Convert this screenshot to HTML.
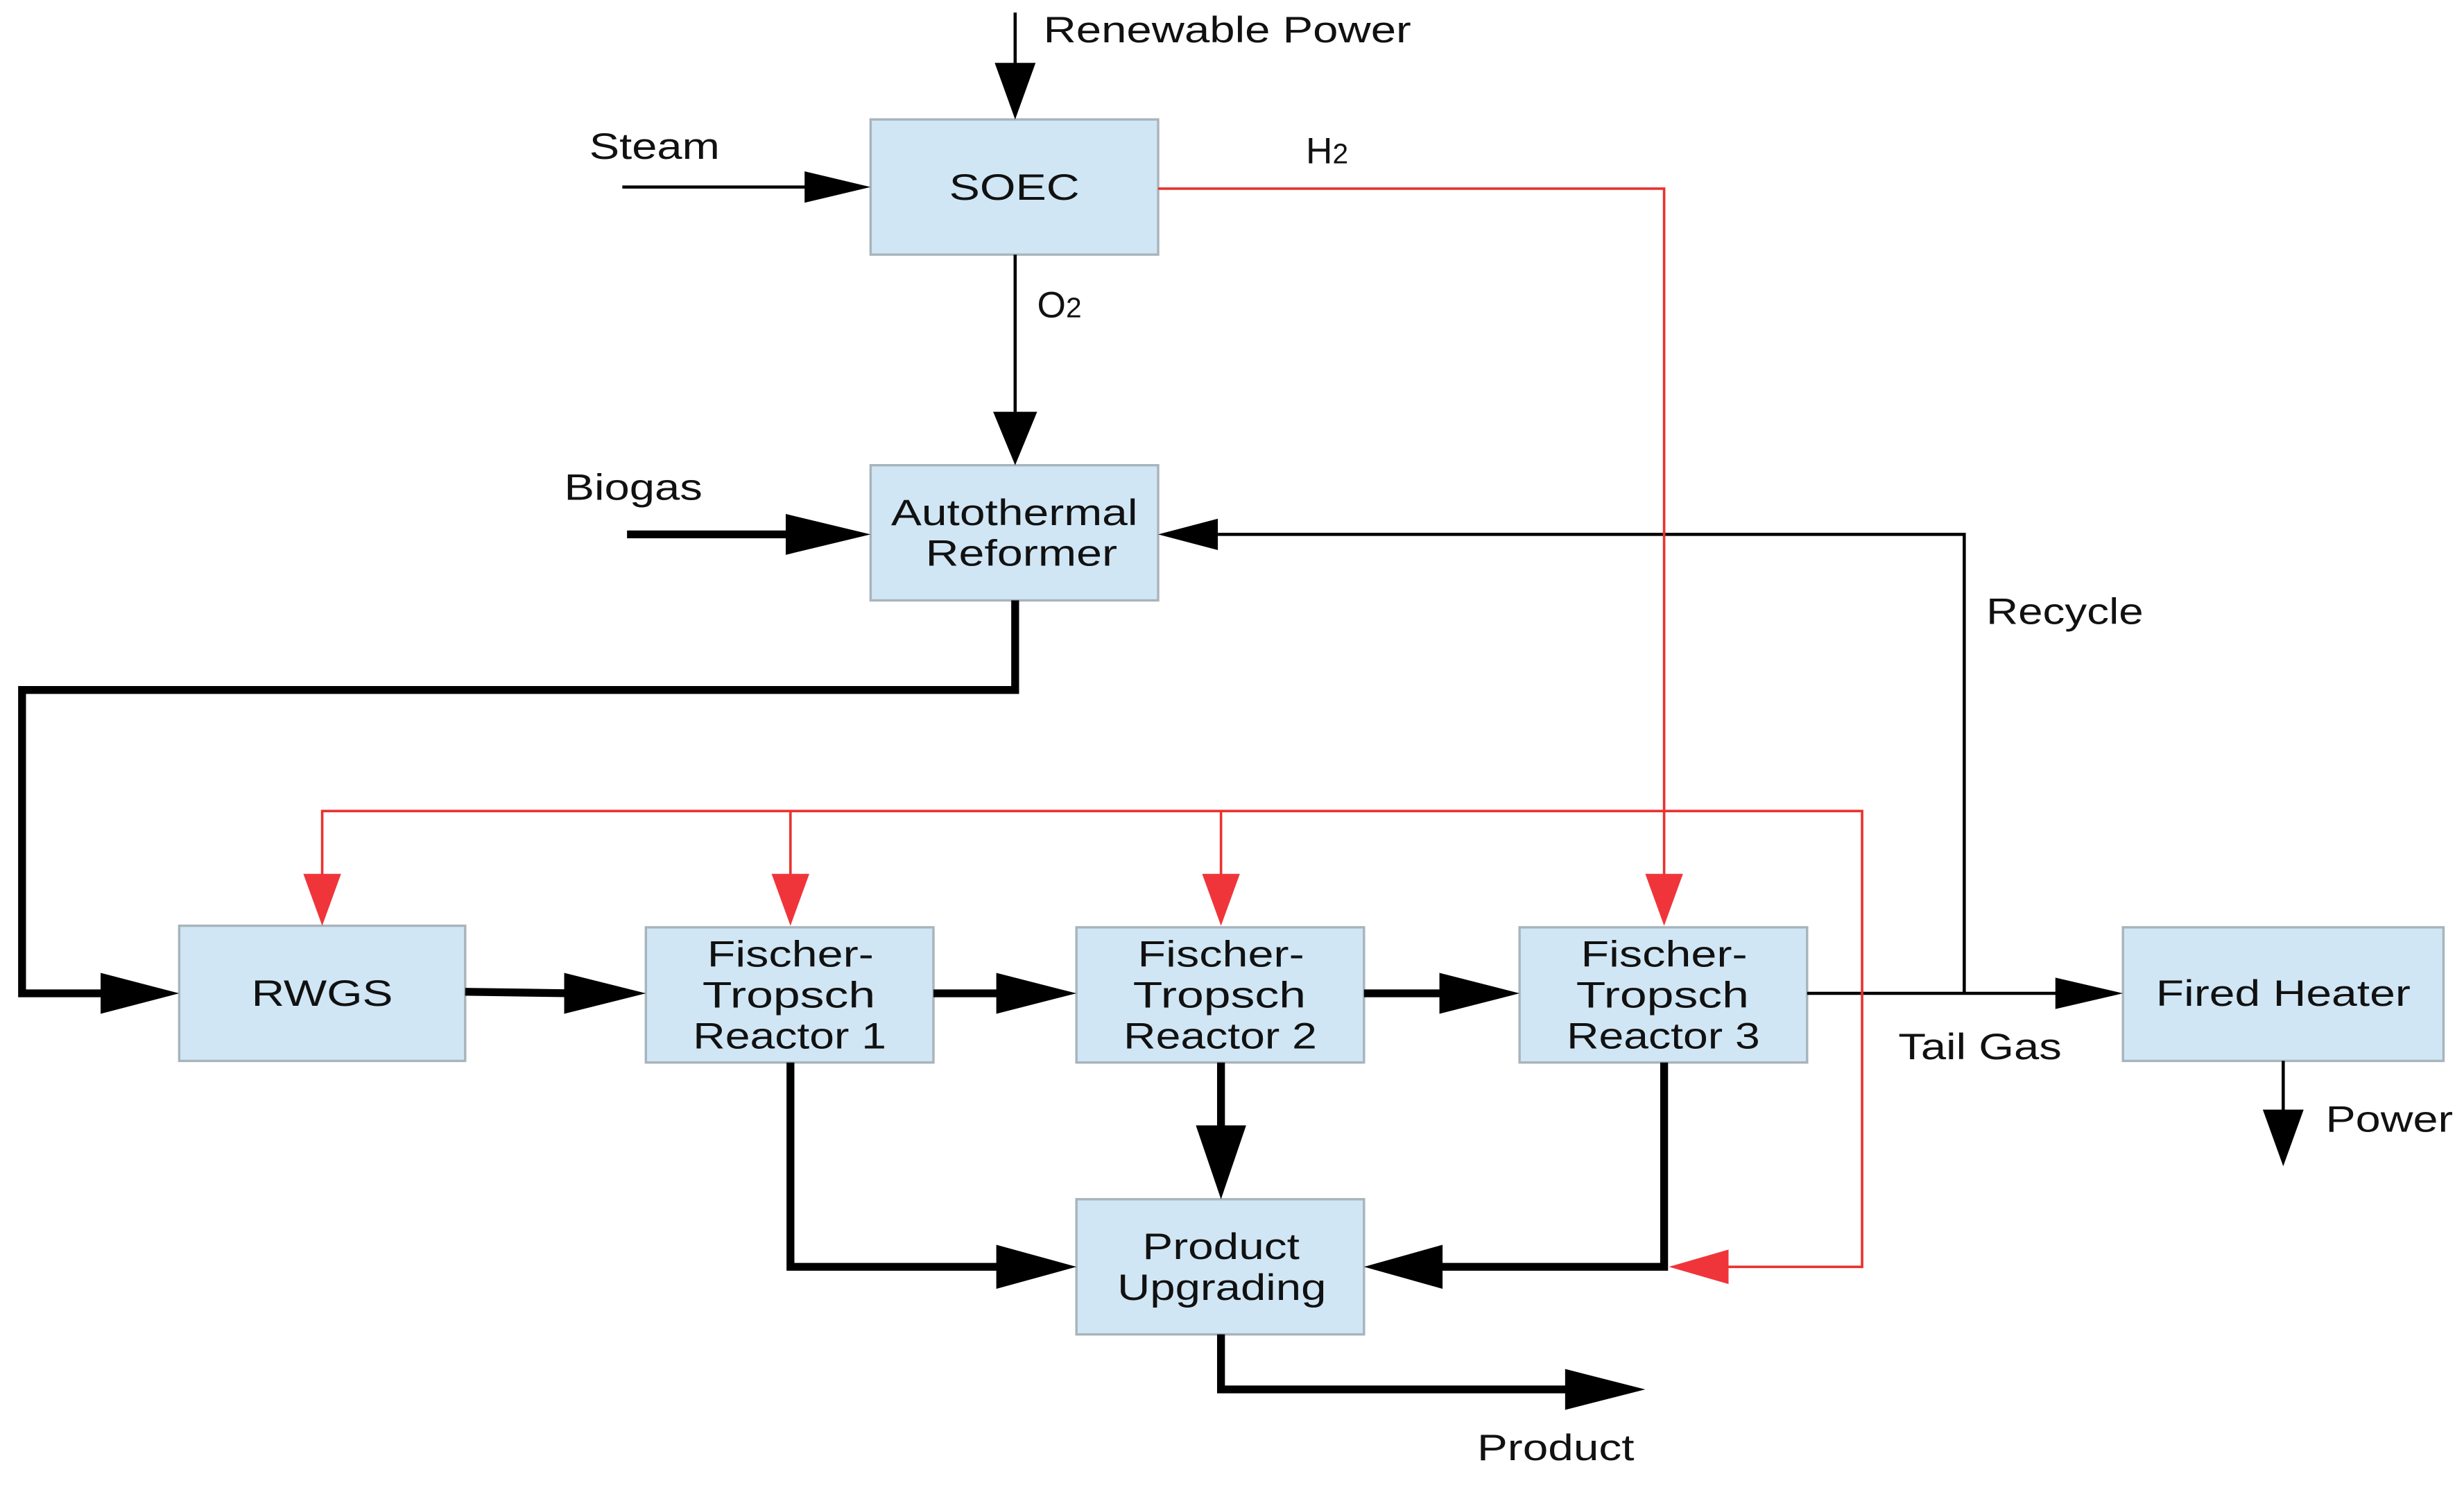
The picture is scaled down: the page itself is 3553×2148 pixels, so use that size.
<!DOCTYPE html>
<html><head><meta charset="utf-8"><style>
html,body{margin:0;padding:0;background:#fff;}
svg{display:block;}
text{font-family:"Liberation Sans",sans-serif;font-size:23.5px;fill:#111;}
</style></head><body>
<svg width="3553" height="2148" viewBox="0 0 1568 948" xmlns="http://www.w3.org/2000/svg">
<rect width="1568" height="948" fill="#fff"/>
<g fill="#d0e6f4" stroke="#a8b4bc" stroke-width="1.5">
<rect x="554" y="76" width="183" height="86"/>
<rect x="554" y="296" width="183" height="86"/>
<rect x="114" y="589" width="182" height="86"/>
<rect x="411" y="590" width="183" height="86"/>
<rect x="685" y="590" width="183" height="86"/>
<rect x="967" y="590" width="183" height="86"/>
<rect x="1351" y="590" width="204" height="85"/>
<rect x="685" y="763" width="183" height="86"/>
</g>
<g stroke="#000" stroke-width="2" fill="none">
<line x1="646" y1="8" x2="646" y2="45"/>
<line x1="396" y1="119" x2="520" y2="119"/>
<line x1="646" y1="162" x2="646" y2="262"/>
<polyline points="1250,632 1250,340 775,340"/>
<line x1="1150" y1="632" x2="1312" y2="632"/>
<line x1="1453" y1="675" x2="1453" y2="710"/>
</g>
<g stroke="#000" stroke-width="5" fill="none">
<line x1="399" y1="340" x2="510" y2="340"/>
<polyline points="646,382 646,439 14,439 14,632 70,632"/>
<line x1="296" y1="631" x2="365" y2="632"/>
<line x1="594" y1="632" x2="640" y2="632"/>
<line x1="868" y1="632" x2="922" y2="632"/>
<polyline points="503,676 503,806 640,806"/>
<line x1="777" y1="676" x2="777" y2="720"/>
<polyline points="1059,676 1059,806 912,806"/>
<polyline points="777,849 777,884 1000,884"/>
</g>
<g stroke="#e8332f" stroke-width="1.6" fill="none">
<polyline points="737,120 1059,120 1059,560"/>
<polyline points="205,560 205,516 1185,516 1185,806 1090,806"/>
<line x1="503" y1="516" x2="503" y2="560"/>
<line x1="777" y1="516" x2="777" y2="560"/>
</g>
<g fill="#000">
<polygon points="633,40 659,40 646,76"/>
<polygon points="512,109 512,129 554,119"/>
<polygon points="632,262 660,262 646,296"/>
<polygon points="500,327 500,353 554,340"/>
<polygon points="775,330 775,350 737,340"/>
<polygon points="64,619 64,645 114,632"/>
<polygon points="359,619 359,645 411,632"/>
<polygon points="634,619 634,645 685,632"/>
<polygon points="916,619 916,645 967,632"/>
<polygon points="1308,622 1308,642 1351,632"/>
<polygon points="1440,706 1466,706 1453,742"/>
<polygon points="761,716 793,716 777,763"/>
<polygon points="634,792 634,820 685,806"/>
<polygon points="918,792 918,820 868,806"/>
<polygon points="996,871 996,897 1047,884"/>
</g>
<g fill="#f0353a">
<polygon points="193,556 217,556 205,589"/>
<polygon points="491,556 515,556 503,589"/>
<polygon points="765,556 789,556 777,589"/>
<polygon points="1047,556 1071,556 1059,589"/>
<polygon points="1100,795 1100,817 1062,806"/>
</g>
<g lengthAdjust="spacingAndGlyphs">
<text x="664" y="27" textLength="234" lengthAdjust="spacingAndGlyphs">Renewable Power</text>
<text x="375" y="101" textLength="83" lengthAdjust="spacingAndGlyphs">Steam</text>
<text x="831" y="104">H<tspan font-size="18">2</tspan></text>
<text x="660" y="202">O<tspan font-size="18">2</tspan></text>
<text x="359" y="318" textLength="88" lengthAdjust="spacingAndGlyphs">Biogas</text>
<text x="1264" y="397" textLength="100" lengthAdjust="spacingAndGlyphs">Recycle</text>
<text x="1208" y="674" textLength="104" lengthAdjust="spacingAndGlyphs">Tail Gas</text>
<text x="1480" y="720" textLength="81" lengthAdjust="spacingAndGlyphs">Power</text>
<text x="940" y="929" textLength="100" lengthAdjust="spacingAndGlyphs">Product</text>
<text x="604" y="127" textLength="83" lengthAdjust="spacingAndGlyphs">SOEC</text>
<text x="567" y="334" textLength="157" lengthAdjust="spacingAndGlyphs">Autothermal</text>
<text x="589" y="360" textLength="122" lengthAdjust="spacingAndGlyphs">Reformer</text>
<text x="160" y="640" textLength="90" lengthAdjust="spacingAndGlyphs">RWGS</text>
<text x="450" y="615" textLength="106" lengthAdjust="spacingAndGlyphs">Fischer-</text>
<text x="447" y="641" textLength="110" lengthAdjust="spacingAndGlyphs">Tropsch</text>
<text x="441" y="667" textLength="123" lengthAdjust="spacingAndGlyphs">Reactor 1</text>
<text x="724" y="615" textLength="106" lengthAdjust="spacingAndGlyphs">Fischer-</text>
<text x="721" y="641" textLength="110" lengthAdjust="spacingAndGlyphs">Tropsch</text>
<text x="715" y="667" textLength="123" lengthAdjust="spacingAndGlyphs">Reactor 2</text>
<text x="1006" y="615" textLength="106" lengthAdjust="spacingAndGlyphs">Fischer-</text>
<text x="1003" y="641" textLength="110" lengthAdjust="spacingAndGlyphs">Tropsch</text>
<text x="997" y="667" textLength="123" lengthAdjust="spacingAndGlyphs">Reactor 3</text>
<text x="1372" y="640" textLength="162" lengthAdjust="spacingAndGlyphs">Fired Heater</text>
<text x="727" y="801" textLength="100" lengthAdjust="spacingAndGlyphs">Product</text>
<text x="711" y="827" textLength="133" lengthAdjust="spacingAndGlyphs">Upgrading</text>
</g>
</svg>
</body></html>
